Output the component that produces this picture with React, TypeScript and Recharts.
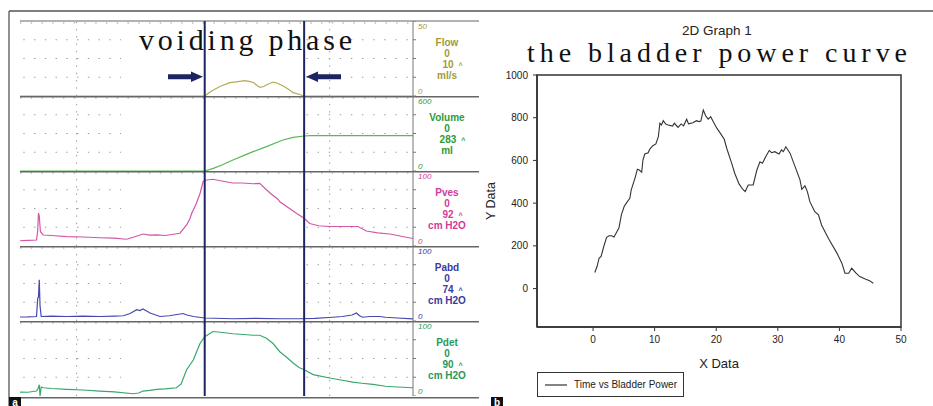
import React from 'react';
import { LineChart, Line, XAxis, YAxis, ReferenceLine, ReferenceArea, Legend } from 'recharts';

// ---------- Left panel: urodynamic traces (time axis 0..100) ----------
const voidStart = 47.0;
const voidEnd = 72.3;

const flowTrace: [number, number][] = [
  [0, 0], [47, 0], [48, 2], [49.2, 4], [51, 6.5], [53.4, 8.9], [55, 9.4], [57.2, 10.2], [58.3, 9.8],
  [59.4, 9], [60.3, 7], [61.1, 5.8], [62, 6.3], [62.8, 7.5], [64.4, 9.3], [65.5, 8.5], [67, 6.7],
  [68.3, 4.5], [69.5, 2.2], [71, 1.2], [72.3, 0], [100, 0],
];

const volumeTrace: [number, number][] = [
  [0, 0], [47, 0], [49.2, 21], [51.5, 50], [54.2, 88], [57, 125], [59.3, 155], [62.7, 195],
  [66.9, 248], [69.5, 269], [72.3, 280], [74, 283], [100, 283],
];

const pvesTrace: [number, number][] = [
  [0, 7], [2, 7.5], [4.2, 8], [4.5, 20], [4.7, 44], [4.9, 40], [5.2, 19], [5.9, 14.7], [8, 14],
  [11.9, 12.4], [16, 12], [20.3, 11], [24, 10.5], [27.1, 9], [29, 12], [31.3, 16], [33, 14.5],
  [34.8, 14.7], [37, 14], [40.7, 17], [42.4, 28], [43.2, 36], [43.7, 43.6], [44.9, 57], [45.8, 70],
  [46.6, 86], [47.5, 88], [49.1, 89], [51, 87], [54.2, 84], [56.5, 84], [59.3, 83], [61, 83.5],
  [62.7, 75], [64, 69], [65.7, 62], [66.1, 59], [68.6, 50], [70.5, 43], [72.3, 37], [73.7, 30],
  [76, 27], [78.8, 26], [82, 26], [86, 26], [88.1, 20], [91, 17.5], [94.1, 16], [97, 13], [100, 10],
];

const pabdTrace: [number, number][] = [
  [0, 5.3], [2, 5.5], [4.2, 6], [4.5, 30], [4.7, 32], [4.9, 55], [5.1, 20], [5.4, 6], [8, 6.5],
  [11.9, 6], [16, 6.5], [20.3, 6], [24, 6.5], [26.3, 7], [28, 10], [29.7, 15], [30.5, 14], [31.3, 16],
  [32, 14], [33.1, 10.7], [34, 9], [35.6, 6], [38, 7], [41.5, 10], [42.5, 8], [44.1, 6], [47, 4],
  [54.2, 3], [60, 3.5], [66, 3], [71.2, 3], [75, 3.5], [79.6, 5], [82, 6], [84.5, 8], [85.6, 10.7],
  [86.4, 7], [87.2, 5], [89, 6], [91.5, 6], [93, 5], [96, 4], [100, 2.7],
];

const pdetTrace: [number, number][] = [
  [0, 5.3], [2, 5], [4.2, 6.6], [4.6, 10], [4.9, 15], [5.1, 0], [5.4, 12], [5.9, 11], [8, 10],
  [11.9, 8.8], [16, 8], [20.3, 6.6], [24, 5.5], [28.8, 3], [30.2, 4], [31.3, 6.6], [33, 7.5],
  [34.8, 8.8], [37, 9.5], [39.8, 11], [41, 16], [42.4, 35], [44.1, 48], [45.8, 70], [47, 79],
  [49.1, 86], [51, 85], [54.2, 83], [57, 82], [59.3, 81], [61, 81], [62.7, 77], [64.4, 70],
  [66.1, 59], [68, 51], [69.5, 44], [71, 38], [72.3, 35], [74.6, 28.5], [78.8, 24], [82, 21],
  [84.7, 18.4], [87, 17], [89.8, 15.4], [93, 13], [96, 12], [100, 11],
];

const channelNames = ['Flow', 'Volume', 'Pves', 'Pabd', 'Pdet'];
const channelMax = [50, 600, 100, 100, 100];
const channelPeak = ['10', '283', '92', '74', '90'];
const channelUnits = ['ml/s', 'ml', 'cm H2O', 'cm H2O', 'cm H2O'];
const channelTraces = [flowTrace, volumeTrace, pvesTrace, pabdTrace, pdetTrace];

// ---------- Right panel: bladder power curve ----------
const bladderCurve: [number, number][] = [
  [0.28, 75], [0.65, 103], [0.98, 142], [1.3, 150], [1.74, 197], [2.2, 240], [2.6, 247], [3.0, 247],
  [3.4, 241], [3.8, 262], [4.2, 283], [4.6, 345], [5.05, 384], [5.4, 400], [5.97, 423], [6.2, 462],
  [6.8, 516], [7.2, 559], [7.5, 555], [7.9, 545], [8.1, 602], [8.4, 630], [8.95, 636], [9.2, 652],
  [9.65, 668], [10.2, 677], [10.6, 711], [10.85, 774], [11.1, 766], [11.4, 786], [11.8, 770],
  [12.2, 766], [12.9, 761], [13.2, 774], [13.8, 755], [14.3, 771], [14.7, 762], [15.2, 793],
  [15.5, 771], [16.2, 776], [16.8, 786], [17.2, 782], [17.5, 784], [17.9, 836], [18.3, 808],
  [18.7, 793], [19.1, 805], [19.5, 782], [20.1, 751], [20.6, 730], [21.3, 699], [21.7, 657],
  [22.5, 587], [23.0, 540], [23.7, 490], [24.3, 465], [24.7, 454], [25.2, 485], [26.0, 485],
  [26.6, 555], [27.1, 594], [27.5, 587], [28.1, 621], [28.6, 646], [29.0, 636], [29.5, 641],
  [30.2, 630], [30.6, 649], [30.9, 641], [31.3, 664], [32.0, 633], [32.8, 571], [33.6, 509],
  [33.9, 465], [34.4, 481], [34.8, 454], [35.2, 407], [36.0, 360], [36.6, 345], [37.1, 298],
  [38.2, 236], [39.6, 166], [40.4, 119], [40.9, 72], [41.5, 72], [42.0, 95], [42.7, 72],
  [43.3, 56], [44.2, 45], [44.9, 37], [45.5, 25],
];
const powerXTicks = [0, 10, 20, 30, 40, 50];
const powerYTicks = [0, 200, 400, 600, 800, 1000];
const seriesName = 'Time vs Bladder Power';

// ---------- styles ----------
const rowTops = [21, 96, 171, 246, 321];
const rowHeight = 75;
const traceColors = ['#b3ab52', '#58b858', '#d257a6', '#4747b0', '#38a66c'];
const labelColors = ['#a39a3a', '#2c9a3a', '#d03c98', '#3a3a9e', '#27985a'];
const navy = '#1c2562';
const sans = 'Liberation Sans, Arial, Helvetica, sans-serif';
const serif = 'Liberation Serif, Times New Roman, serif';

const makeTick = (max: number, color: string) => (props: any) => {
  const { x, y, payload } = props;
  const v = payload.value;
  if (v !== 0 && v !== max) return <g />;
  return (
    <text x={x} y={v === max ? y + 7.5 : y - 2} fill={color} fontSize={8} fontStyle="italic" fontFamily={sans}>
      {v}
    </text>
  );
};

function TraceRow({ index }: { index: number }) {
  const max = channelMax[index];
  const data = channelTraces[index].map(([t, v]) => ({ t, v }));
  const quarters = [max * 0.25, max * 0.5, max * 0.75];
  return (
    <div style={{ position: 'absolute', left: 0, top: rowTops[index] }}>
      <LineChart width={480} height={rowHeight} margin={{ top: 0, right: 0, bottom: 0, left: 20 }} data={data}>
        <XAxis type="number" dataKey="t" domain={[0, 100]} hide allowDataOverflow />
        <YAxis
          orientation="right"
          width={67}
          type="number"
          domain={[0, max]}
          ticks={[0, ...quarters, max]}
          interval={0}
          tickSize={3}
          axisLine={{ stroke: '#777' }}
          tickLine={{ stroke: '#777' }}
          tick={makeTick(max, labelColors[index])}
          allowDataOverflow
        />
        {quarters.map((q) => (
          <ReferenceLine key={'l' + q} segment={[{ x: 0.84, y: q }, { x: 25.7, y: q }]} stroke="#9a9a9a" strokeDasharray="1.4 9.35" />
        ))}
        {quarters.map((q) => (
          <ReferenceLine key={'r' + q} segment={[{ x: 72.9, y: q }, { x: 99.3, y: q }]} stroke="#9a9a9a" strokeDasharray="1.4 9.7" />
        ))}
        <ReferenceLine x={14.4} stroke="#9a9a9a" strokeDasharray="1.4 5.9" />
        <ReferenceLine x={78.8} stroke="#9a9a9a" strokeDasharray="1.4 5.9" />
        <Line type="linear" dataKey="v" stroke={traceColors[index]} strokeWidth={1.2} dot={false} isAnimationActive={false} />
        <ReferenceLine x={voidStart} stroke={navy} strokeWidth={2} />
        <ReferenceLine x={voidEnd} stroke={navy} strokeWidth={2} />
      </LineChart>
    </div>
  );
}

const renderLegend = (props: any) => {
  const item = props.payload && props.payload[0];
  return (
    <div
      style={{
        width: 145, height: 23, border: '1.5px solid #333', display: 'flex', alignItems: 'center',
        fontFamily: sans, fontSize: 10, color: '#222', background: '#fff',
      }}
    >
      <svg width={30} height={10} style={{ flex: 'none' }}>
        <line x1={7} y1={5} x2={29} y2={5} stroke={item ? item.color : '#333'} strokeWidth={1.2} />
      </svg>
      <span style={{ marginLeft: 6, whiteSpace: 'nowrap' }}>{item ? item.value : seriesName}</span>
    </div>
  );
};

export default function App() {
  const powerData = bladderCurve.map(([x, y]) => ({ x, y }));
  return (
    <div style={{ position: 'absolute', left: 0, top: 0, width: 933, height: 406, background: '#fff', overflow: 'hidden' }}>
      {/* background frame */}
      <svg width={933} height={406} style={{ position: 'absolute', left: 0, top: 0 }}>
        <line x1={9} y1={11} x2={933} y2={11} stroke="#555" strokeWidth={1.3} />
        <line x1={9} y1={11} x2={9} y2={406} stroke="#555" strokeWidth={1.3} />
        <line x1={20} y1={21} x2={479} y2={21} stroke="#666" strokeWidth={1.2} />
        {rowTops.map((t) => (
          <line key={'tk' + t} x1={20} y1={t + 2} x2={413} y2={t + 2} stroke="#999" strokeDasharray="1.4 9.35" strokeWidth={1.2} />
        ))}
        {[96, 171, 246, 321, 397].map((y) => (
          <line key={'dv' + y} x1={20} y1={y + 0.7} x2={479} y2={y + 0.7} stroke="#666" strokeWidth={1.5} />
        ))}
      </svg>

      {channelNames.map((_, i) => (
        <TraceRow key={i} index={i} />
      ))}

      <div style={{ position: 'absolute', left: 480, top: 0 }}>
        <LineChart width={453} height={406} margin={{ top: 75, right: 32, bottom: 49, left: 0 }} data={powerData}>
          <XAxis
            type="number"
            dataKey="x"
            domain={[-9.1, 50]}
            ticks={powerXTicks}
            interval={0}
            allowDataOverflow
            height={30}
            tickSize={4}
            tickMargin={5}
            axisLine={{ stroke: '#333', strokeWidth: 1.5 }}
            tickLine={{ stroke: '#333' }}
            tick={{ fill: '#222', fontSize: 10, fontFamily: sans }}
            label={{
              content: (p: any) => {
                const vb = p.viewBox || { x: 57, y: 327, width: 364 };
                return (
                  <text x={vb.x + vb.width / 2} y={vb.y + 41} textAnchor="middle" fontSize={13} fill="#222" fontFamily={sans}>
                    X Data
                  </text>
                );
              },
            }}
          />
          <YAxis
            type="number"
            domain={[-180, 1000]}
            ticks={powerYTicks}
            interval={0}
            allowDataOverflow
            width={57}
            tickSize={4}
            tickMargin={5}
            axisLine={{ stroke: '#333', strokeWidth: 1.5 }}
            tickLine={{ stroke: '#333' }}
            tick={{ fill: '#222', fontSize: 10, fontFamily: sans }}
            label={{
              content: (p: any) => {
                const vb = p.viewBox || { x: 0, y: 75, height: 252 };
                const cx = vb.x + 15;
                const cy = vb.y + vb.height / 2;
                return (
                  <text x={cx} y={cy} transform={`rotate(-90 ${cx} ${cy})`} textAnchor="middle" fontSize={12.5} fill="#222" fontFamily={sans}>
                    Y Data
                  </text>
                );
              },
            }}
          />
          <ReferenceArea x1={-9.1} x2={50} y1={-180} y2={1000} fill="none" stroke="#333" strokeWidth={1.5} ifOverflow="extendDomain" />
          <Line type="linear" dataKey="y" name={seriesName} stroke="#333" strokeWidth={1.1} dot={false} isAnimationActive={false} />
          <Legend
            layout="vertical"
            align="center"
            verticalAlign="middle"
            wrapperStyle={{ left: 57, top: 372, width: 148, height: 26 }}
            content={renderLegend}
          />
        </LineChart>
      </div>

      {/* foreground annotations */}
      <svg width={933} height={406} style={{ position: 'absolute', left: 0, top: 0, pointerEvents: 'none' }}>
        <text x={139} y={50} fontFamily={serif} fontSize={30} textLength={213} lengthAdjust="spacing" fill="#111">
          voiding phase
        </text>
        <polygon points="168,74.3 191,74.3 191,71.6 203,76.8 191,82 191,79.3 168,79.3" fill={navy} />
        <polygon points="341,74.3 318,74.3 318,71.6 306,76.8 318,82 318,79.3 341,79.3" fill={navy} />

        {channelNames.map((name, i) => {
          const t = rowTops[i];
          const c = labelColors[i];
          const peak = channelPeak[i];
          return (
            <g key={name} fontFamily={sans} fontWeight="bold" fontSize={10} fill={c}>
              <text x={447} y={t + 24.5} textAnchor="middle">{name}</text>
              <text x={447} y={t + 35.5} textAnchor="middle">0</text>
              <text x={448 - peak.length * 2.8} y={t + 46.5}>
                {peak}
                <tspan dx={5} fontSize={7}>^</tspan>
              </text>
              <text x={447} y={t + 58} textAnchor="middle">{channelUnits[i]}</text>
            </g>
          );
        })}

        <text x={717} y={34.5} textAnchor="middle" fontFamily={sans} fontSize={13.5} fill="#222">2D Graph 1</text>
        <text x={527} y={62} fontFamily={serif} fontSize={28} textLength={380} lengthAdjust="spacing" fill="#111">
          the bladder power curve
        </text>

        <rect x={9} y={397} width={12} height={10} fill="#111" />
        <text x={15} y={405.5} textAnchor="middle" fontFamily={sans} fontSize={10} fontWeight="bold" fill="#fff">a</text>
        <rect x={491} y={397} width={12} height={10} fill="#111" />
        <text x={497} y={405.5} textAnchor="middle" fontFamily={sans} fontSize={10} fontWeight="bold" fill="#fff">b</text>
      </svg>
    </div>
  );
}
